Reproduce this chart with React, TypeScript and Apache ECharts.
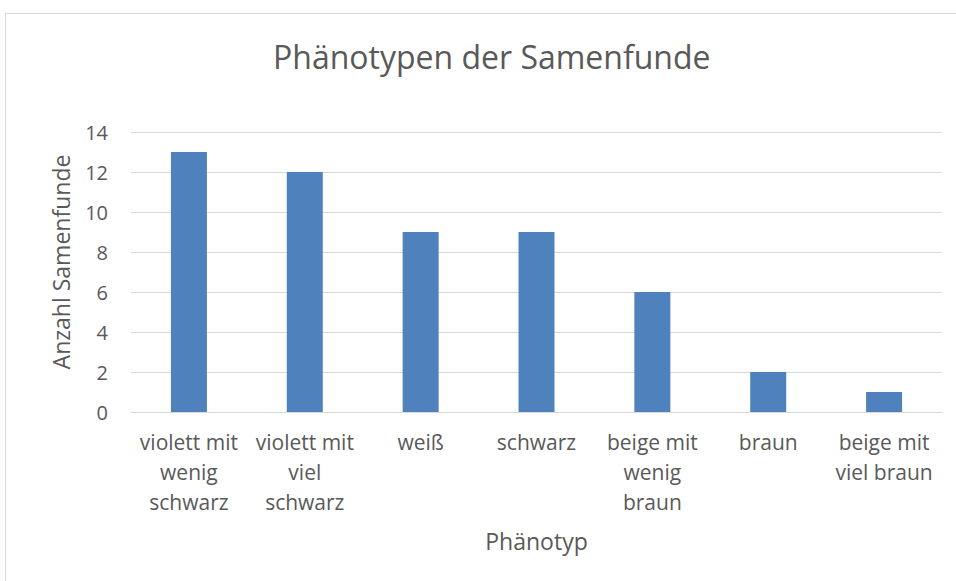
import React, { useEffect, useRef } from "react";
import * as echarts from "echarts";

const categories = [
  "violett mit wenig schwarz",
  "violett mit viel schwarz",
  "weiß",
  "schwarz",
  "beige mit wenig braun",
  "braun",
  "beige mit viel braun",
];
const categoryLabels = [
  "violett mit\nwenig\nschwarz",
  "violett mit\nviel\nschwarz",
  "weiß",
  "schwarz",
  "beige mit\nwenig\nbraun",
  "braun",
  "beige mit\nviel braun",
];
const counts = [13, 12, 9, 9, 6, 2, 1];

const FONT = "'Open Sans', sans-serif";
const TEXT = "#595959";

export default function App() {
  const ref = useRef<HTMLDivElement>(null);
  useEffect(() => {
    document.body.style.margin = "0";
    const chart = echarts.init(ref.current!, null, { renderer: "svg" });
    chart.setOption({
      animation: false,
      backgroundColor: "#ffffff",
      textStyle: { fontFamily: FONT, color: TEXT },
      title: {
        text: "Phänotypen der Samenfunde",
        left: 273,
        top: 40,
        textStyle: { fontFamily: FONT, fontSize: 32, fontWeight: "normal", color: TEXT },
        padding: 0,
      },
      graphic: [
        {
          type: "rect",
          shape: { x: 5.5, y: 13.5, width: 1000, height: 1000 },
          style: { fill: "none", stroke: "#D9D9D9", lineWidth: 1 },
          silent: true,
        },
      ],
      grid: { left: 131, right: 14, top: 132, bottom: 169 },
      xAxis: {
        type: "category",
        data: categories,
        name: "Phänotyp",
        nameLocation: "middle",
        nameGap: 117,
        nameTextStyle: { fontFamily: FONT, fontSize: 23, color: TEXT },
        axisLine: { show: true, lineStyle: { color: "#D9D9D9", width: 1 } },
        axisTick: { show: false },
        axisLabel: {
          interval: 0,
          margin: 15,
          fontFamily: FONT,
          fontSize: 21,
          lineHeight: 30,
          color: TEXT,
          formatter: (_v: string, i: number) => categoryLabels[i],
        },
      },
      yAxis: {
        type: "value",
        min: 0,
        max: 14,
        interval: 2,
        name: "Anzahl Samenfunde",
        nameLocation: "middle",
        nameGap: 59,
        nameTextStyle: { fontFamily: FONT, fontSize: 23, color: TEXT, padding: [0, 0, 0, 20] },
        axisLine: { show: false },
        axisTick: { show: false },
        axisLabel: { fontFamily: FONT, fontSize: 20, color: TEXT, margin: 23 },
        splitLine: { lineStyle: { color: "#D9D9D9", width: 1 } },
      },
      series: [
        {
          type: "bar",
          data: counts,
          barWidth: 36,
          itemStyle: { color: "#4F81BD" },
        },
      ],
    });
    return () => chart.dispose();
  }, []);
  return (
    <div
      ref={ref}
      style={{ position: "absolute", left: 0, top: 0, width: 956, height: 581 }}
    />
  );
}
